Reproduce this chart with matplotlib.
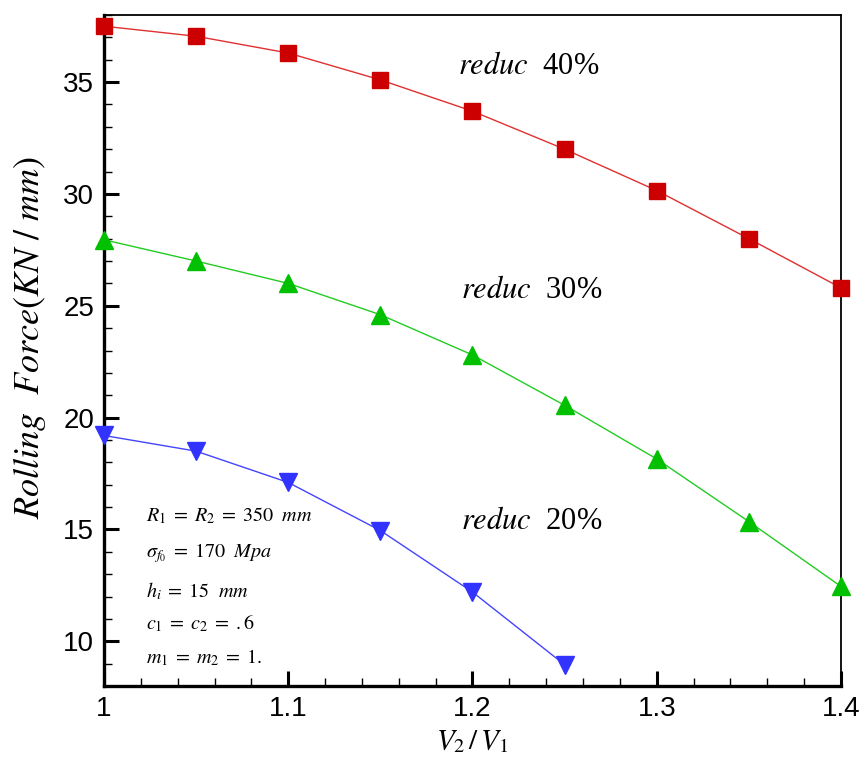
import matplotlib
matplotlib.use("Agg")
import matplotlib.pyplot as plt
from matplotlib.ticker import MultipleLocator

plt.rcParams['mathtext.fontset'] = 'stix'
plt.rcParams['font.family'] = ['Liberation Sans', 'DejaVu Sans']

x = [1.0, 1.05, 1.1, 1.15, 1.2, 1.25, 1.3, 1.35, 1.4]
reduc40 = [37.5, 37.05, 36.3, 35.1, 33.7, 32.0, 30.15, 28.0, 25.8]
reduc30 = [27.95, 27.0, 26.0, 24.6, 22.8, 20.55, 18.15, 15.35, 12.45]
x20 = [1.0, 1.05, 1.1, 1.15, 1.2, 1.25]
reduc20 = [19.2, 18.5, 17.1, 14.95, 12.2, 8.95]

fig = plt.figure(figsize=(8.6, 7.6), dpi=100)
ax = fig.add_axes([104/860, 1-686/760, (841-104)/860, (686-15)/760])

ax.plot(x, reduc40, color='#e03030', lw=1.0, marker='s', ms=11,
        mfc='#cc0000', mec='#cc0000', clip_on=False, zorder=3)
ax.plot(x, reduc30, color='#22cc22', lw=1.0, marker='^', ms=13,
        mfc='#00c000', mec='#00c000', clip_on=False, zorder=3)
ax.plot(x20, reduc20, color='#4444ff', lw=1.0, marker='v', ms=13,
        mfc='#3333ff', mec='#3333ff', clip_on=False, zorder=3)

ax.set_xlim(1.0, 1.4)
ax.set_ylim(8, 38)
ax.xaxis.set_major_locator(MultipleLocator(0.1))
ax.xaxis.set_minor_locator(MultipleLocator(0.02))
ax.yaxis.set_major_locator(MultipleLocator(5))
ax.yaxis.set_minor_locator(MultipleLocator(1))
ax.set_xticks([1.0, 1.1, 1.2, 1.3, 1.4])
ax.set_xticklabels(['1', '1.1', '1.2', '1.3', '1.4'])
ax.set_yticks([10, 15, 20, 25, 30, 35])

ax.tick_params(which='major', direction='in', length=11, width=2.2,
               labelsize=20, pad=7)
ax.tick_params(which='minor', direction='in', length=6, width=1.0)
ax.tick_params(top=False, right=False, which='both')

for s in ['left', 'bottom']:
    ax.spines[s].set_linewidth(2.4)
for s in ['top', 'right']:
    ax.spines[s].set_linewidth(1.3)

ax.set_xlabel(r'$V_2\,/\,V_1$', fontsize=21, labelpad=4)
ax.set_ylabel(r'$Rolling\ \ Force(KN\ /\ mm)$', fontsize=26)
ax.yaxis.set_label_coords(-0.076, 0.519)

lab = dict(fontsize=22, ha='left', va='center', family='Liberation Serif')
ax.text(1.192, 35.7, r'$reduc$  40%', **lab)
ax.text(1.194, 25.7, r'$reduc$  30%', **lab)
ax.text(1.194, 15.35, r'$reduc$  20%', **lab)

info = [r'$R_1\;=\;R_2\;=\;350\ \ mm$',
        r'$\sigma_{f_0}\;=\;170\ \ Mpa$',
        r'$h_i\;=\;15\ \ mm$',
        r'$c_1\;=\;c_2\;=\;.6$',
        r'$m_1\;=\;m_2\;=\;1.$']
ys = [15.6, 13.95, 12.25, 10.8, 9.25]
for t, yv in zip(info, ys):
    ax.text(1.023, yv, t, fontsize=14.5, ha='left', va='center')

fig.savefig('out.png', dpi=100)
